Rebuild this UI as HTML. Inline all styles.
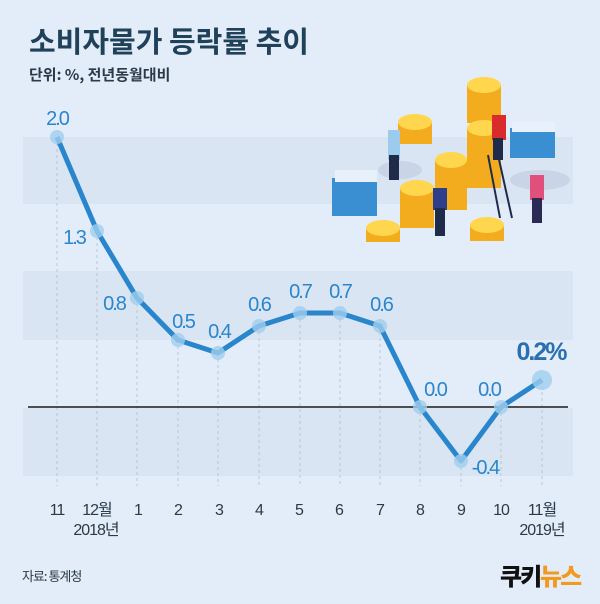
<!DOCTYPE html>
<html><head><meta charset="utf-8"><style>
html,body{margin:0;padding:0;background:#e3edf9;}
svg{display:block}
text{font-family:"Liberation Sans","Noto Sans CJK KR",sans-serif;}
</style></head><body>
<svg width="600" height="604" viewBox="0 0 600 604" xmlns="http://www.w3.org/2000/svg">
<rect width="600" height="604" fill="#e3edf9"/>
<rect x="23" y="137" width="550" height="67" fill="#d9e5f2"/>
<rect x="23" y="271" width="550" height="69" fill="#d9e5f2"/>
<rect x="23" y="408" width="550" height="68" fill="#d9e5f2"/>
<text x="29" y="52" font-size="29" font-weight="bold" fill="#1f4159" style="font-family:'Noto Sans CJK KR',sans-serif">소비자물가 등락률 추이</text>
<text x="29" y="80" font-size="15" font-weight="bold" fill="#2a3a48" style="font-family:'Noto Sans CJK KR',sans-serif">단위: %, 전년동월대비</text>
<g stroke="#b9c6d3" stroke-width="1" stroke-dasharray="3,3">
<line x1="57" y1="137" x2="57" y2="486"/><line x1="97" y1="231" x2="97" y2="486"/><line x1="137" y1="298" x2="137" y2="486"/><line x1="178" y1="340" x2="178" y2="486"/><line x1="218" y1="353" x2="218" y2="486"/><line x1="259" y1="326" x2="259" y2="486"/><line x1="300" y1="313" x2="300" y2="486"/><line x1="340" y1="313" x2="340" y2="486"/><line x1="380" y1="326" x2="380" y2="486"/><line x1="420" y1="407" x2="420" y2="486"/><line x1="461" y1="461" x2="461" y2="486"/><line x1="501" y1="407" x2="501" y2="486"/><line x1="542" y1="380" x2="542" y2="486"/>
</g>
<line x1="28" y1="407" x2="568" y2="407" stroke="#1a1a1a" stroke-width="1.5"/>
<g>
<ellipse cx="400" cy="170" rx="22" ry="9" fill="#c9d5e6"/>
<ellipse cx="540" cy="180" rx="30" ry="10" fill="#c9d5e6"/>
<rect x="332" y="178" width="45" height="38" fill="#3a8fd3"/><rect x="335" y="170" width="42" height="12" fill="#e8f1fb"/>
<rect x="510" y="128" width="45" height="30" fill="#3a8fd3"/><rect x="512" y="122" width="43" height="10" fill="#e8f1fb"/>
<g fill="#f2ac1e"><rect x="467" y="85" width="34" height="38"/><rect x="467" y="128" width="34" height="60"/><rect x="435" y="160" width="32" height="50"/><rect x="400" y="188" width="34" height="40"/><rect x="398" y="122" width="34" height="22"/><rect x="366" y="228" width="34" height="14"/><rect x="470" y="225" width="34" height="16"/></g>
<g fill="#ffd64d"><ellipse cx="484" cy="85" rx="17" ry="8"/><ellipse cx="484" cy="128" rx="17" ry="8"/><ellipse cx="451" cy="160" rx="16" ry="8"/><ellipse cx="417" cy="188" rx="17" ry="8"/><ellipse cx="415" cy="122" rx="17" ry="8"/><ellipse cx="383" cy="228" rx="17" ry="8"/><ellipse cx="487" cy="225" rx="17" ry="8"/></g>
<rect x="388" y="130" width="12" height="30" fill="#9ccbed"/><rect x="389" y="155" width="10" height="25" fill="#1f2b4a"/>
<rect x="492" y="115" width="14" height="25" fill="#d92b2b"/><rect x="493" y="138" width="10" height="22" fill="#1f2b4a"/>
<line x1="488" y1="155" x2="500" y2="218" stroke="#1f2b4a" stroke-width="2"/><line x1="498" y1="155" x2="512" y2="218" stroke="#1f2b4a" stroke-width="2"/>
<rect x="530" y="175" width="14" height="25" fill="#e0507a"/><rect x="532" y="198" width="10" height="25" fill="#2a2a55"/>
<rect x="433" y="188" width="14" height="22" fill="#2d3e8a"/><rect x="435" y="208" width="10" height="28" fill="#1f2b4a"/>
</g>
<polyline points="57,137 97,231 137,298 178,340 218,353 259,326 300,313 340,313 380,326 420,407 461,461 501,407 542,380" fill="none" stroke="#2a86cc" stroke-width="5" stroke-linejoin="round"/>
<g fill="#9fcdee" fill-opacity="0.8">
<circle cx="57" cy="137" r="7"/><circle cx="97" cy="231" r="7"/><circle cx="137" cy="298" r="7"/><circle cx="178" cy="340" r="7"/><circle cx="218" cy="353" r="7"/><circle cx="259" cy="326" r="7"/><circle cx="300" cy="313" r="7"/><circle cx="340" cy="313" r="7"/><circle cx="380" cy="326" r="7"/><circle cx="420" cy="407" r="7"/><circle cx="461" cy="461" r="7"/><circle cx="501" cy="407" r="7"/><circle cx="542" cy="380" r="10"/>
</g>
<g font-size="20" fill="#2a86cc" letter-spacing="-2">
<text x="57" y="125" text-anchor="middle">2.0</text>
<text x="74" y="244" text-anchor="middle">1.3</text>
<text x="114" y="310" text-anchor="middle">0.8</text>
<text x="183" y="328" text-anchor="middle">0.5</text>
<text x="219" y="338" text-anchor="middle">0.4</text>
<text x="259" y="311" text-anchor="middle">0.6</text>
<text x="300" y="298" text-anchor="middle">0.7</text>
<text x="340" y="298" text-anchor="middle">0.7</text>
<text x="381" y="311" text-anchor="middle">0.6</text>
<text x="435" y="396" text-anchor="middle">0.0</text>
<text x="489" y="396" text-anchor="middle">0.0</text>
<text x="485" y="474" text-anchor="middle">-0.4</text>
</g>
<text x="541" y="360" text-anchor="middle" font-size="25" font-weight="bold" fill="#2a6fb0" letter-spacing="-2">0.2%</text>
<g font-size="16" fill="#2a3a48" text-anchor="middle" style="font-family:'Liberation Sans','Noto Sans CJK KR',sans-serif" letter-spacing="-1">
<text x="57" y="515">11</text><text x="97" y="515">12월</text><text x="138" y="515">1</text><text x="178" y="515">2</text><text x="219" y="515">3</text><text x="259" y="515">4</text><text x="299" y="515">5</text><text x="339" y="515">6</text><text x="380" y="515">7</text><text x="420" y="515">8</text><text x="461" y="515">9</text><text x="501" y="515">10</text><text x="542" y="515">11월</text>
<text x="96" y="535">2018년</text><text x="542" y="535">2019년</text>
</g>
<text x="22" y="581" font-size="13" fill="#2a3a48" style="font-family:'Noto Sans CJK KR',sans-serif" letter-spacing="-1">자료: 통계청</text>
<text x="500" y="585" font-size="24" font-weight="900" fill="#111" style="font-family:'Noto Sans CJK KR',sans-serif" letter-spacing="-2">쿠키</text>
<text x="540" y="585" font-size="24" font-weight="900" fill="#f39a1e" style="font-family:'Noto Sans CJK KR',sans-serif" letter-spacing="-2">뉴스</text>
</svg>
</body></html>
